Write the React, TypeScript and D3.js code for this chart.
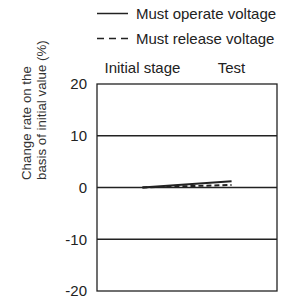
import React from 'react';
import * as d3 from 'd3';

const stages = ['Initial stage', 'Test'];
const operateValues = [0, 1.2];
const releaseValues = [0, 0.5];
const yTicks = [20, 10, 0, -10, -20];
const legendItems = ['Must operate voltage', 'Must release voltage'];

const width = 287;
const height = 302;
const margin = { top: 84, right: 10, bottom: 11, left: 97 };
const ink = '#222';
const font = 'Arial, "Liberation Sans", sans-serif';

export default function App() {
  const x = d3.scaleBand<string>()
    .domain(stages)
    .range([margin.left, width - margin.right])
    .padding(0.02);

  const y = d3.scaleLinear()
    .domain([-20, 20])
    .range([height - margin.bottom, margin.top]);

  const cx = (s: string) => (x(s) || 0) + x.bandwidth() / 2;

  const line = d3.line<number>()
    .x((_, i) => cx(stages[i]))
    .y(d => y(d));

  const series = [
    { values: operateValues, dash: undefined },
    { values: releaseValues, dash: '5,3' },
  ];

  return (
    <svg width={width} height={height} style={{ position: 'absolute', left: 0, top: 0 }} fontFamily={font}>
      {/* legend */}
      {legendItems.map((label, i) => (
        <g key={label} transform={`translate(0, ${i * 25})`}>
          <line x1={97} x2={128} y1={13.5} y2={13.5} stroke={ink} strokeWidth={1.5}
            strokeDasharray={i === 1 ? '7,5' : undefined} />
          <text x={136} y={18.5} fontSize={15} fill={ink}>{label}</text>
        </g>
      ))}

      {/* category labels */}
      {stages.map(s => (
        <text key={s} x={cx(s)} y={73} fontSize={15} fill={ink} textAnchor="middle">{s}</text>
      ))}

      {/* grid + ticks */}
      {yTicks.map(t => (
        <g key={t}>
          {t !== 20 && t !== -20 && (
            <line x1={margin.left} x2={width - margin.right} y1={y(t)} y2={y(t)} stroke={ink} strokeWidth={1.3} />
          )}
          <text x={87} y={y(t)} dy="0.36em" fontSize={15} fill={ink} textAnchor="end">{t}</text>
        </g>
      ))}

      <rect x={margin.left} y={margin.top} width={width - margin.right - margin.left}
        height={height - margin.bottom - margin.top} fill="none" stroke={ink} strokeWidth={1.3} />

      {/* axis title */}
      <g transform="translate(0, 180) rotate(-90)" fontSize={13.3} fill="#333">
        <text x={0} y={31}>Change rate on the</text>
        <text x={0} y={46}>basis of initial value (%)</text>
      </g>

      {/* series */}
      {series.map((s, i) => (
        <path key={i} d={line(s.values) || ''} fill="none" stroke={ink} strokeWidth={2}
          strokeDasharray={s.dash} />
      ))}
    </svg>
  );
}
